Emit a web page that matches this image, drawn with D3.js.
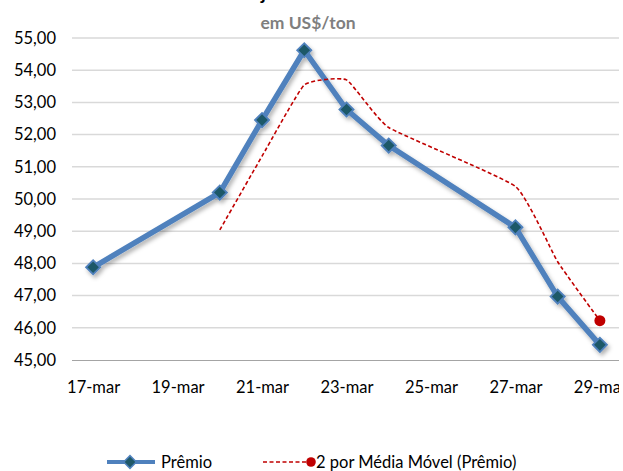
<!DOCTYPE html>
<html><head><meta charset="utf-8">
<script src="https://cdn.jsdelivr.net/npm/d3@7"></script>
<style>
body{margin:0;background:#fff;}
svg{display:block;font-family:Lato,"Open Sans",sans-serif;}
</style></head>
<body><svg id="c" width="623" height="471"></svg>
<script>
const dates = ["2013-03-17","2013-03-20","2013-03-21","2013-03-22","2013-03-23","2013-03-24","2013-03-27","2013-03-28","2013-03-29"];
const premio = [47.88, 50.2, 52.45, 54.62, 52.78, 51.66, 49.12, 46.97, 45.47];
const maDates = ["2013-03-20","2013-03-21","2013-03-22","2013-03-23","2013-03-24","2013-03-27","2013-03-28","2013-03-29"];
const mediaMovel = [49.04, 51.33, 53.54, 53.70, 52.22, 50.39, 48.05, 46.22];
const yTicks = [45,46,47,48,49,50,51,52,53,54,55];
const xTickDates = ["2013-03-17","2013-03-19","2013-03-21","2013-03-23","2013-03-25","2013-03-27","2013-03-29"];
const xTickLabels = ["17-mar","19-mar","21-mar","23-mar","25-mar","27-mar","29-mar"];
const seriesNames = ["Prêmio","2 por Média Móvel (Prêmio)"];
const titleText = "Prêmio Soja";
const subtitleText = "em US$/ton";

const P = s => new Date(s + "T00:00:00Z");
const svg = d3.select("#c");
const x = d3.scaleUtc().domain([new Date(Date.UTC(2013,2,16,12)), new Date(Date.UTC(2013,2,29,12))]).range([72, 621]);
const y = d3.scaleLinear().domain([45,55]).range([360,38]);

const defs = svg.append("defs");
const f = defs.append("filter").attr("id","sh").attr("x","-10%").attr("y","-10%").attr("width","130%").attr("height","130%");
f.append("feDropShadow").attr("dx",2).attr("dy",3).attr("stdDeviation",2).attr("flood-color","#000").attr("flood-opacity",0.3);
defs.append("clipPath").attr("id","xclip").append("rect").attr("x",0).attr("y",0).attr("width",619).attr("height",60);

// title (mostly cut off at top)
const t = svg.append("text").attr("y",0).attr("font-weight","bold").attr("font-size",19).attr("fill","#000").text(titleText);
const off = t.node().getSubStringLength(0, titleText.indexOf("j"));
t.attr("x", 261 - off);
svg.append("text").attr("x",308).attr("y",29).attr("text-anchor","middle").attr("font-weight","bold")
  .attr("font-size",17.5).attr("fill","#7f7f7f").text(subtitleText);

// grid
svg.append("g").selectAll("line").data(yTicks.filter(v=>v>45)).join("line")
  .attr("x1",72).attr("x2",619).attr("y1",d=>y(d)).attr("y2",d=>y(d))
  .attr("stroke","#d9d9d9").attr("stroke-width",1.5);
// y axis labels
const ya = svg.append("g").attr("transform","translate(72,0)")
  .call(d3.axisLeft(y).tickValues(yTicks).tickSize(0).tickPadding(16).tickFormat(d=>d3.format(".2f")(d).replace(".",",")));
ya.select(".domain").remove();
ya.selectAll("text").attr("font-size",16.5).attr("fill","#000").attr("font-family","Lato,sans-serif");
// x axis
const xa = svg.append("g").attr("transform","translate(0,360)").attr("clip-path","url(#xclip)")
  .call(d3.axisBottom(x).tickValues(xTickDates.map(P)).tickSize(0).tickPadding(21).tickFormat((d,i)=>xTickLabels[i]));
xa.select(".domain").attr("stroke","#868686").attr("stroke-width",1.5).attr("d","M72,0H619");
xa.selectAll("text").attr("font-size",16.5).attr("fill","#000").attr("font-family","Lato,sans-serif");

// premio line
const pdata = dates.map((d,i)=>({d:P(d), v:premio[i]}));
const line = d3.line().x(d=>x(d.d)).y(d=>y(d.v));
const gP = svg.append("g").attr("filter","url(#sh)");
gP.append("path").datum(pdata).attr("d",line).attr("fill","none").attr("stroke","#4f81bd").attr("stroke-width",5.5).attr("stroke-linejoin","round");
const dia = d3.symbol().type(d3.symbolSquare).size(100);
gP.selectAll("path.m").data(pdata).join("path").attr("class","m").attr("d",dia)
  .attr("transform",d=>`translate(${x(d.d)},${y(d.v)}) rotate(45)`)
  .attr("fill","#1f5868").attr("stroke","#4f81bd").attr("stroke-width",1.8);

// moving average
const mdata = maDates.map((d,i)=>({d:P(d), v:mediaMovel[i]}));
svg.append("path").datum(mdata).attr("d",d3.line().curve(d3.curveCardinal.tension(0.6)).x(d=>x(d.d)).y(d=>y(d.v)))
  .attr("fill","none").attr("stroke","#c00000").attr("stroke-width",1.6).attr("stroke-dasharray","4,2.5");
const last = mdata[mdata.length-1];
svg.append("circle").attr("cx",x(last.d)).attr("cy",y(last.v)).attr("r",5.5).attr("fill","#c00000");

// legend
const lg = svg.append("g");
lg.append("line").attr("x1",107).attr("x2",155).attr("y1",462).attr("y2",462).attr("stroke","#4f81bd").attr("stroke-width",4);
lg.append("path").attr("d",d3.symbol().type(d3.symbolSquare).size(80)).attr("transform","translate(130,462) rotate(45)").attr("fill","#1f5868").attr("stroke","#4f81bd").attr("stroke-width",1.5);
lg.append("text").attr("x",161).attr("y",468).attr("font-size",16.5).attr("fill","#000").text(seriesNames[0]);
lg.append("line").attr("x1",263).attr("x2",308).attr("y1",462).attr("y2",462).attr("stroke","#c00000").attr("stroke-width",1.6).attr("stroke-dasharray","4,2.5");
lg.append("circle").attr("cx",311).attr("cy",462).attr("r",4.8).attr("fill","#c00000");
lg.append("text").attr("x",316).attr("y",468).attr("font-size",16.5).attr("fill","#000").text(seriesNames[1]);
</script></body></html>
